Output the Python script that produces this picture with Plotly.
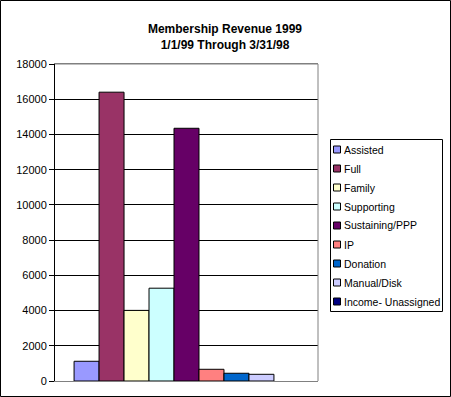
import plotly.graph_objects as go

categories = ["Assisted", "Full", "Family", "Supporting", "Sustaining/PPP",
              "IP", "Donation", "Manual/Disk", "Income- Unassigned"]
values = [1120, 16400, 4010, 5270, 14350, 665, 440, 380, 0]
colors = ["#9999FF", "#993366", "#FFFFCC", "#CCFFFF", "#660066",
          "#FF8080", "#0066CC", "#CCCCFF", "#000080"]
ytick_vals = list(range(0, 18001, 2000))

W, H = 451, 397
L, R, T, B = 55, 318, 64, 381
pw, ph = R - L, B - T

fig = go.Figure()
for name, v, c in zip(categories, values, colors):
    fig.add_trace(go.Bar(x=[""], y=[v], name=name,
                         marker=dict(color=c, line=dict(color="black", width=1 if v else 0))))

fig.update_layout(
    template="none",
    width=W, height=H,
    margin=dict(l=L, r=W - R, t=T, b=H - B, pad=0),
    paper_bgcolor="white", plot_bgcolor="white",
    barmode="group", bargap=0.145, bargroupgap=0,
    font=dict(family="Liberation Sans, Arial", size=11, color="black"),
    title=dict(text="<b>Membership Revenue 1999<br>1/1/99 Through 3/31/98</b>",
               x=225 / W, xanchor="center", y=1 - 33 / H, yanchor="middle",
               font=dict(size=12, family="Liberation Sans, Arial", color="black")),
    showlegend=False,
    xaxis=dict(showticklabels=False, ticks="", showline=True, linecolor="#808080",
               linewidth=1, mirror=True, showgrid=False, zeroline=False),
    yaxis=dict(range=[0, 18000], tickvals=ytick_vals, tickformat="d",
               ticks="outside", ticklen=5, tickcolor="black", tickwidth=1,
               showline=True, linecolor="black", linewidth=1,
               showgrid=True, gridcolor="black", gridwidth=1, zeroline=False,
               tickfont=dict(size=11)),
)
# right and top plot-area border (gray)
fig.add_shape(type="line", xref="x domain", yref="y domain", x0=1, x1=1, y0=0, y1=1,
              line=dict(color="#808080", width=1))
fig.add_shape(type="line", xref="x domain", yref="y domain", x0=0, x1=1, y0=1, y1=1,
              line=dict(color="#808080", width=1))

# legend box (drawn from the category/colour lists)
lx0, lx1, ly0, ly1 = 330, 442, 139, 311
step = 19
first = 149.5
def px(x):
    return (x - L) / pw
def py(y):
    return (B - y) / ph
fig.add_shape(type="rect", xref="paper", yref="paper",
              x0=px(lx0 + 0.5), x1=px(lx1 + 0.5), y0=py(ly1 + 0.5), y1=py(ly0 + 0.5),
              line=dict(color="black", width=1), fillcolor="white", layer="above")
for i, (name, c) in enumerate(zip(categories, colors)):
    yc = first + i * step
    fig.add_shape(type="rect", xref="paper", yref="paper",
                  x0=px(333.5), x1=px(340.5), y0=py(yc + 3.5), y1=py(yc - 3.5),
                  line=dict(color="black", width=1), fillcolor=c, layer="above")
    fig.add_annotation(xref="paper", yref="paper", x=px(342), y=py(yc),
                       text=name, showarrow=False, xanchor="left", yanchor="middle",
                       font=dict(size=10.5, color="black"))

# outer chart border
fig.add_shape(type="rect", xref="paper", yref="paper",
              x0=px(0.5), x1=px(W - 0.5), y0=py(H - 0.5), y1=py(0.5),
              line=dict(color="black", width=1), layer="above")

fig.write_html("out.html")
